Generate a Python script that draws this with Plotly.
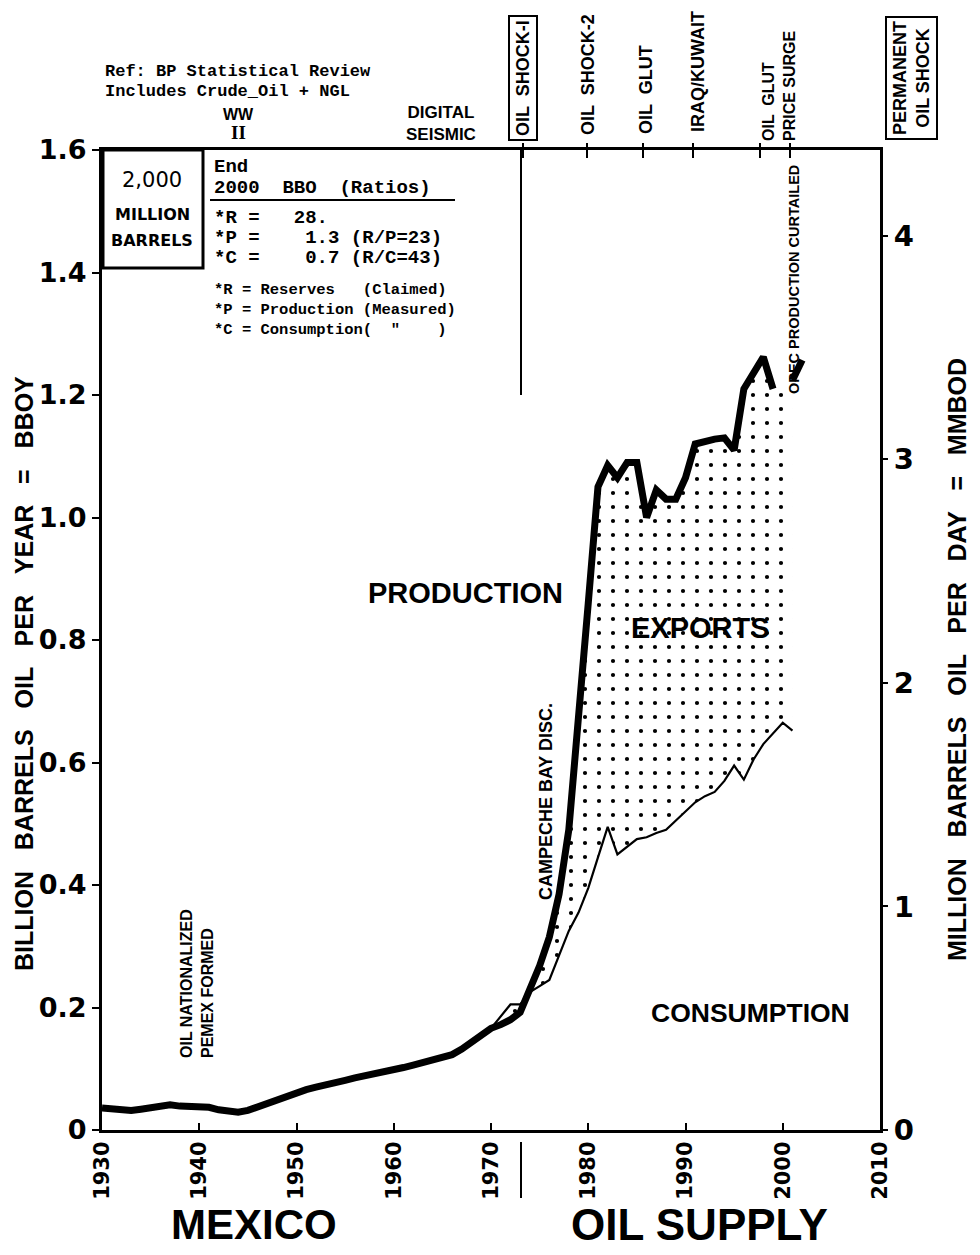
import plotly.graph_objects as go

# ---------------- DATA ----------------
prod_years = list(range(1930, 2000))
production = [  # billion barrels / year
    0.036, 0.034, 0.032, 0.032, 0.034, 0.037, 0.040, 0.041, 0.039, 0.039,   # 1930s
    0.039, 0.037, 0.033, 0.030, 0.029, 0.032, 0.038, 0.045, 0.050, 0.056,   # 1940s
    0.061, 0.066, 0.070, 0.073, 0.077, 0.081, 0.085, 0.088, 0.091, 0.094,   # 1950s
    0.098, 0.102, 0.106, 0.110, 0.114, 0.117, 0.123, 0.132, 0.143, 0.155,   # 1960s
    0.166, 0.172, 0.180, 0.192, 0.228, 0.268, 0.315, 0.385, 0.490, 0.660,   # 1970s
    0.860, 1.050, 1.085, 1.065, 1.090, 1.090, 1.000, 1.045, 1.030, 1.030,   # 1980s
    1.065, 1.120, 1.125, 1.128, 1.130, 1.110, 1.210, 1.235, 1.262, 1.210,   # 1990s
]
prod_late_years = [2001, 2002]
prod_late = [1.224, 1.257]

cons_years = list(range(1970, 2002))
consumption = [
    0.166, 0.185, 0.205, 0.205, 0.225, 0.235, 0.245, 0.285, 0.325, 0.355,   # 1970s
    0.395, 0.445, 0.495, 0.450, 0.462, 0.475, 0.478, 0.485, 0.490, 0.505,   # 1980s
    0.520, 0.535, 0.545, 0.552, 0.570, 0.595, 0.572, 0.605, 0.630, 0.648,   # 1990s
    0.665, 0.652,                                                           # 2000s
]

x_ticks = list(range(1930, 2011, 10))
y_ticks = [0, 0.2, 0.4, 0.6, 0.8, 1.0, 1.2, 1.4, 1.6]
y_ticktext = ["0", "0.2", "0.4", "0.6", "0.8", "1.0", "1.2", "1.4", "1.6"]
y2_ticks = [0, 1, 2, 3, 4]
BBOY_PER_MMBOD = 0.365

# ---------------- LAYOUT HELPERS (page pixel coordinates) ----------------
PAGE_W, PAGE_H = 980, 1255
BODY = 8                      # default body margin of the html page
L, T, W, H = 102, 150, 778, 980   # plot area in page pixels
FIG_W, FIG_H = PAGE_W - BODY, PAGE_H - BODY


def px(x):
    return (x - L) / W


def py(y):
    return (T + H - y) / H


SANS = "Liberation Sans, Arial, sans-serif"
MONO = "Liberation Mono, DejaVu Sans Mono, monospace"
WIDE = "DejaVu Sans, Verdana, sans-serif"
GAP = " \u00a0\u00a0"   # wide word gap used in the axis titles

fig = go.Figure()

# exports region (dotted) between production and consumption
i70 = prod_years.index(1970)
fx = prod_years[i70:] + prod_late_years[:1] + cons_years[::-1]
fy = production[i70:] + prod_late[:1] + consumption[::-1]
fig.add_trace(go.Scatter(
    x=fx, y=fy, fill="toself", mode="lines", line=dict(width=0, color="rgba(0,0,0,0)"),
    fillcolor="white",
    fillpattern=dict(shape=".", fgcolor="black", bgcolor="white", fgopacity=1,
                     size=14, solidity=0.07),
    hoverinfo="skip", showlegend=False))

# consumption (thin)
fig.add_trace(go.Scatter(x=cons_years, y=consumption, mode="lines",
                         line=dict(color="black", width=2.2), showlegend=False))
# production (thick)
fig.add_trace(go.Scatter(x=prod_years, y=production, mode="lines",
                         line=dict(color="black", width=7), showlegend=False))
fig.add_trace(go.Scatter(x=prod_late_years, y=prod_late, mode="lines",
                         line=dict(color="black", width=7), showlegend=False))
# right axis anchor
fig.add_trace(go.Scatter(x=[1930], y=[0], yaxis="y2", mode="markers",
                         marker=dict(opacity=0), hoverinfo="skip", showlegend=False))

ann = []


def A(text, x, y, size, family=SANS, angle=0, xanchor="center", yanchor="middle",
      align="center", bold=True, border=False):
    d = dict(text=text, x=px(x), y=py(y), xref="paper", yref="paper", showarrow=False,
             textangle=angle, xanchor=xanchor, yanchor=yanchor, align=align,
             font=dict(family=family, size=size, color="black",
                       weight="bold" if bold else "normal"))
    if border:
        d.update(bordercolor="black", borderwidth=2, borderpad=3)
    ann.append(d)


# header notes
A("Ref: BP Statistical Review", 103, 72, 17, MONO, xanchor="left")
A("Includes Crude_Oil + NGL", 103, 92, 17, MONO, xanchor="left")
A("WW", 238, 114, 16)
A("II", 238, 133, 19, "Liberation Serif, DejaVu Serif, serif")
A("DIGITAL<br>SEISMIC", 441, 124, 17)

# top event labels (rotated)
A("OIL  SHOCK-I", 523, 78, 18, angle=-90, border=True)
A("OIL  SHOCK-2", 588, 75, 18, angle=-90)
A("OIL  GLUT", 646, 90, 18, angle=-90)
A("IRAQ/KUWAIT", 698, 72, 18, angle=-90)
A("OIL  GLUT<br>PRICE SURGE", 779, 86, 16, angle=-90, align="left")
A("PERMANENT<br>OIL SHOCK", 911, 78, 18, angle=-90, border=True)

# box
A("2,000", 152, 180, 21, WIDE, bold=False)
A("MILLION", 152, 214, 16, WIDE)
A("BARRELS", 152, 240, 16, WIDE)

# table
A("End", 212, 167, 19, MONO, xanchor="left")
A("2000  BBO  (Ratios)", 212, 188, 19, MONO, xanchor="left")
A("*R =   28.", 212, 218, 19, MONO, xanchor="left")
A("*P =    1.3 (R/P=23)", 212, 238, 19, MONO, xanchor="left")
A("*C =    0.7 (R/C=43)", 212, 258, 19, MONO, xanchor="left")
A("*R = Reserves   (Claimed)", 212, 290, 15.5, MONO, xanchor="left")
A("*P = Production (Measured)", 212, 310, 15.5, MONO, xanchor="left")
A("*C = Consumption(  \"    )", 212, 330, 15.5, MONO, xanchor="left")

# in-plot labels
A("PRODUCTION", 465, 593, 29)
A("EXPORTS", 700, 628, 29)
A("CONSUMPTION", 750, 1013, 26.5)
A("CAMPECHE BAY DISC.", 546, 802, 18, angle=-90)
A("OIL NATIONALIZED<br>PEMEX FORMED", 197, 984, 16, angle=-90, align="left")
A("OPEC PRODUCTION CURTAILED", 794, 280, 14.5, angle=-90)

# axis titles
A(GAP.join(["BILLION", "BARRELS", "OIL", "PER", "YEAR", "=", "BBOY"]),
  24, 674, 25, angle=-90)
A(GAP.join(["MILLION", "BARRELS", "OIL", "PER", "DAY", "=", "MMBOD"]),
  957, 660, 25, angle=-90)

# bottom titles
A("MEXICO", 254, 1224, 42)
A("OIL SUPPLY", 699, 1224, 44)

shapes = []
# data box outline
shapes.append(dict(type="rect", xref="paper", yref="paper", x0=px(103), x1=px(203),
                   y0=py(268), y1=py(150), line=dict(color="black", width=3)))
# table underline
shapes.append(dict(type="line", xref="paper", yref="paper", x0=px(210), x1=px(455),
                   y0=py(200), y1=py(200), line=dict(color="black", width=2)))
# oil shock-I line inside plot + marker below axis
shapes.append(dict(type="line", xref="paper", yref="paper", x0=px(521), x1=px(521),
                   y0=py(395), y1=1, line=dict(color="black", width=2)))
shapes.append(dict(type="line", xref="paper", yref="paper", x0=px(521), x1=px(521),
                   y0=py(1142), y1=py(1198), line=dict(color="black", width=2)))
# event tick marks on the top frame
for ex in [523, 587, 643, 693, 760, 790]:
    shapes.append(dict(type="line", xref="paper", yref="paper", x0=px(ex), x1=px(ex),
                       y0=py(158), y1=py(143), line=dict(color="black", width=2)))

fig.update_layout(
    width=FIG_W, height=FIG_H,
    margin=dict(l=L - BODY, r=PAGE_W - L - W, t=T - BODY, b=PAGE_H - T - H),
    paper_bgcolor="white", plot_bgcolor="white",
    annotations=ann, shapes=shapes,
    xaxis=dict(range=[1930, 2010], tickvals=x_ticks, ticks="inside", ticklen=7,
               tickwidth=2, tickcolor="black", showline=True, linewidth=3,
               linecolor="black", mirror=True, showgrid=False, zeroline=False,
               tickangle=-90, tickfont=dict(family=WIDE, size=21, color="black",
                                             weight="bold")),
    yaxis=dict(range=[0, 1.6], tickvals=y_ticks, ticktext=y_ticktext, ticks="outside",
               ticklen=7, tickwidth=2, tickcolor="black", showline=True, linewidth=3,
               linecolor="black", mirror=True, showgrid=False, zeroline=False,
               tickfont=dict(family=WIDE, size=27, color="black", weight="bold")),
    yaxis2=dict(range=[0, 1.6 / BBOY_PER_MMBOD], overlaying="y", side="right",
                tickvals=y2_ticks, ticks="outside", ticklen=7, tickwidth=2,
                tickcolor="black", showline=False, showgrid=False, zeroline=False,
                tickfont=dict(family=WIDE, size=29, color="black", weight="bold")),
)

fig.write_html("out.html")
